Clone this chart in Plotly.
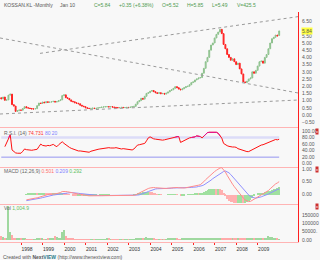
import plotly.graph_objects as go

# ---------------- data (monthly, Jan 1997 .. Jan 2010) ----------------
years = ["1998", "1999", "2000", "2001", "2002", "2003", "2004", "2005", "2006", "2007", "2008", "2009"]
year_start_idx = [12, 24, 36, 48, 60, 72, 84, 96, 108, 120, 132, 144]

closes = (
    [1.20, 1.12, 1.25, 1.02, 1.05, 1.38, 1.45, 0.72, 0.62, 0.25, 0.30, 0.35]      # 1997
    + [0.33, 0.45, 0.58, 0.50, 0.48, 0.45, 0.42, 0.42, 0.44, 0.65, 0.83, 0.80]    # 1998
    + [0.90, 0.85, 0.92, 0.88, 0.90, 0.92, 0.95, 0.90, 0.93, 1.00, 1.05, 1.35]    # 1999
    + [1.40, 1.20, 1.15, 1.05, 0.95, 0.92, 0.85, 0.82, 0.78, 0.68, 0.62, 0.58]    # 2000
    + [0.50, 0.47, 0.45, 0.46, 0.48, 0.45, 0.47, 0.50, 0.52, 0.55, 0.56, 0.58]    # 2001
    + [0.58, 0.56, 0.58, 0.55, 0.53, 0.52, 0.50, 0.52, 0.53, 0.51, 0.52, 0.53]    # 2002
    + [0.52, 0.55, 0.58, 0.60, 0.75, 0.92, 1.00, 1.16, 1.10, 1.30, 1.50, 1.55]    # 2003
    + [1.65, 1.70, 1.62, 1.55, 1.50, 1.55, 1.48, 1.50, 1.45, 1.52, 1.60, 1.70]    # 2004
    + [1.75, 1.85, 1.97, 1.90, 1.80, 1.75, 1.82, 1.90, 1.97, 2.00, 2.10, 2.25]    # 2005
    + [2.30, 2.43, 2.50, 2.57, 2.60, 2.90, 3.24, 3.70, 4.00, 4.50, 4.86, 5.00]    # 2006
    + [5.35, 5.60, 5.76, 5.95, 5.65, 4.90, 4.60, 4.20, 4.00, 3.80, 3.90, 3.70]    # 2007
    + [3.50, 3.60, 3.20, 2.85, 2.30, 2.25, 2.35, 2.50, 2.57, 3.00, 2.90, 3.10]    # 2008
    + [3.40, 3.70, 3.75, 3.60, 4.00, 4.20, 4.60, 5.00, 5.30, 5.40, 5.55, 5.49]    # 2009
    + [5.84]                                                                       # Jan 2010
)
first_open = 1.15
last_open = 5.52

volume_k = (
    [30, 22, 15, 10, 12, 200, 48, 30, 12, 8, 6, 10]
    + [8, 6, 5, 4, 4, 3, 3, 3, 4, 8, 10, 6]
    + [5, 4, 4, 6, 5, 12, 8, 20, 15, 10, 12, 45]
    + [60, 25, 12, 8, 6, 5, 4, 4, 3, 3, 3, 3]
    + [3, 2, 2, 3, 2, 2, 3, 3, 3, 4, 3, 3]
    + [12, 6, 4, 3, 3, 2, 2, 2, 2, 2, 2, 2]
    + [2, 2, 3, 4, 8, 12, 10, 8, 5, 12, 18, 8]
    + [10, 6, 5, 4, 3, 4, 3, 3, 3, 4, 5, 6]
    + [6, 8, 7, 5, 4, 4, 5, 6, 5, 6, 8, 9]
    + [8, 7, 7, 6, 6, 8, 10, 12, 10, 12, 9, 10]
    + [12, 10, 9, 8, 10, 8, 7, 6, 6, 5, 5, 5]
    + [5, 5, 6, 6, 8, 10, 7, 6, 5, 6, 5, 6]
    + [8, 10, 9, 8, 10, 12, 20, 18, 15, 12, 10, 8]
    + [1.0049]
)

rsi_start = 3
rsi = (
    [52, 65, 80, 88, 42, 36, 33, 32, 31]
    + [32, 38, 45, 43, 42, 42, 41, 42, 42, 44, 52, 60]
    + [56, 55, 54, 56, 55, 57, 59, 55, 52, 58, 62, 67]
    + [62, 57, 54, 50, 47, 45, 42, 40, 39, 39, 38, 38]
    + [36, 35, 35, 38, 40, 42, 43, 44, 45, 46, 47, 48]
    + [48, 49, 48, 47, 48, 49, 47, 45, 45, 46, 45, 44]
    + [43, 42, 42, 45, 52, 57, 58, 60, 61, 62, 70, 79]
    + [82, 78, 76, 75, 74, 72, 71, 72, 73, 74, 77, 78]
    + [78, 79, 81, 83, 83, 65, 68, 72, 73, 76, 79, 80]
    + [80, 82, 85, 85, 83, 79, 84, 90, 95, 96, 96, 96]
    + [96, 96, 93, 85, 78, 62, 57, 55, 53, 51, 51, 51]
    + [50, 46, 44, 42, 40, 38, 37, 37, 40, 44, 47, 48]
    + [52, 56, 57, 58, 60, 64, 66, 68, 70, 72, 74, 73]
    + [74.731]
)
rsi_levels = [80, 20]

macd_start = 15
macd = (
    [-0.22, -0.20, -0.19, -0.17, -0.16, -0.15, -0.14, -0.12, -0.08]
    + [-0.05, -0.03, -0.02, -0.01, 0.00, 0.00, 0.01, 0.02, 0.03, 0.04, 0.07, 0.11]
    + [0.12, 0.11, 0.10, 0.08, 0.07, 0.05, 0.04, 0.02, 0.01, 0.00, -0.02, -0.03]
    + [-0.04, -0.05, -0.06, -0.06, -0.06, -0.05, -0.05, -0.05, -0.04, -0.04, -0.04, -0.04]
    + [-0.04, -0.04, -0.05, -0.05, -0.05, -0.05, -0.05, -0.05, -0.05, -0.05, -0.05, -0.05]
    + [-0.05, -0.05, -0.05, -0.04, -0.02, 0.02, 0.05, 0.09, 0.12, 0.16, 0.20, 0.23]
    + [0.25, 0.27, 0.27, 0.26, 0.25, 0.25, 0.24, 0.23, 0.23, 0.23, 0.24, 0.25]
    + [0.26, 0.27, 0.28, 0.27, 0.26, 0.25, 0.25, 0.25, 0.26, 0.27, 0.28, 0.29]
    + [0.30, 0.32, 0.34, 0.36, 0.38, 0.43, 0.50, 0.58, 0.65, 0.72, 0.78, 0.85]
    + [0.90, 0.95, 1.00, 1.04, 1.05, 0.98, 0.88, 0.75, 0.62, 0.50, 0.40, 0.30]
    + [0.20, 0.12, 0.04, -0.05, -0.15, -0.22, -0.27, -0.29, -0.28, -0.24, -0.20, -0.15]
    + [-0.10, -0.05, -0.01, 0.02, 0.06, 0.10, 0.15, 0.22, 0.29, 0.35, 0.41, 0.45]
    + [0.501]
)
signal = (
    [-0.25, -0.24, -0.23, -0.22, -0.21, -0.20, -0.19, -0.17, -0.15]
    + [-0.13, -0.11, -0.09, -0.07, -0.05, -0.04, -0.03, -0.02, -0.01, 0.00, 0.02, 0.04]
    + [0.05, 0.06, 0.07, 0.07, 0.07, 0.06, 0.06, 0.05, 0.04, 0.03, 0.02, 0.01]
    + [0.00, -0.01, -0.02, -0.03, -0.04, -0.04, -0.04, -0.05, -0.05, -0.05, -0.05, -0.05]
    + [-0.05, -0.05, -0.05, -0.05, -0.05, -0.05, -0.05, -0.05, -0.05, -0.05, -0.05, -0.05]
    + [-0.05, -0.05, -0.05, -0.05, -0.04, -0.03, -0.02, 0.00, 0.02, 0.05, 0.08, 0.11]
    + [0.14, 0.17, 0.19, 0.21, 0.22, 0.22, 0.23, 0.23, 0.23, 0.23, 0.23, 0.24]
    + [0.24, 0.25, 0.25, 0.26, 0.26, 0.26, 0.26, 0.26, 0.26, 0.26, 0.27, 0.27]
    + [0.28, 0.28, 0.29, 0.31, 0.32, 0.34, 0.37, 0.41, 0.46, 0.51, 0.56, 0.62]
    + [0.67, 0.73, 0.78, 0.83, 0.87, 0.90, 0.92, 0.90, 0.85, 0.78, 0.70, 0.62]
    + [0.54, 0.45, 0.36, 0.27, 0.18, 0.10, 0.03, -0.03, -0.08, -0.12, -0.14, -0.15]
    + [-0.14, -0.12, -0.10, -0.07, -0.05, -0.02, 0.01, 0.05, 0.09, 0.13, 0.17, 0.19]
    + [0.209]
)

# trend lines drawn on the chart (month index, price)
trend_down = [(0.29, 5.35), (166.5, 1.53)]
trend_up_top = [(22.6, 4.28), (166.5, 6.83)]
trend_support = [(0.29, 0.07), (166.5, 1.04)]

last_close_label = "5.84"
price_ticks = [-0.5, 0, 0.5, 1, 1.5, 2, 2.5, 3, 3.5, 4, 4.5, 5, 5.5, 6.5]

# ---------------- derived ----------------
n = len(closes)
months = list(range(n))
opens = [first_open] + closes[:-1]
opens[-1] = last_open
highs = [max(o, c) for o, c in zip(opens, closes)]
lows = [min(o, c) for o, c in zip(opens, closes)]
volume = [v * 1000 for v in volume_k]
vol_colors = ["#9fd89f" if c >= o else "#ffaaaa" for o, c in zip(opens, closes)]

rsi_x = list(range(rsi_start, rsi_start + len(rsi)))
rsi_hi = [v if v >= 80 else None for v in rsi]
macd_x = list(range(macd_start, macd_start + len(macd)))
hist = [m - s for m, s in zip(macd, signal)]
hist_colors = ["#9fe09f" if (i == 0 or h >= hist[i - 1]) else "#ffb0b0" for i, h in enumerate(hist)]

W, H = 320, 260
def py(p):
    return 1 - p / H
XR = [0.29, 166.5]
XD = [0, 298 / W]
FONT = "Liberation Sans"
FS = 5
GREEN_T = "#4f9a4f"

fig = go.Figure()

fig.add_trace(go.Candlestick(
    x=months, open=opens, high=highs, low=lows, close=closes,
    increasing=dict(line=dict(color="#8cc08c", width=1), fillcolor="#c0e0c0"),
    decreasing=dict(line=dict(color="#ff2020", width=1), fillcolor="#ff4040"),
    whiskerwidth=0,
    xaxis="x", yaxis="y", showlegend=False, hoverinfo="skip",
))
for (a, b) in [trend_down, trend_up_top, trend_support]:
    fig.add_trace(go.Scatter(x=[a[0], b[0]], y=[a[1], b[1]], mode="lines",
                             line=dict(color="#9a9a9a", width=1, dash="dot"),
                             xaxis="x", yaxis="y", showlegend=False, hoverinfo="skip"))

# RSI
fig.add_trace(go.Scatter(x=[1, n - 1], y=[rsi_levels[0]] * 2, mode="lines",
                         line=dict(color="#dcdcf8", width=2.5), xaxis="x2", yaxis="y2", showlegend=False))
fig.add_trace(go.Scatter(x=[1, n - 1], y=[rsi_levels[1]] * 2, mode="lines",
                         line=dict(color="#9494f0", width=1), xaxis="x2", yaxis="y2", showlegend=False))
fig.add_trace(go.Scatter(x=rsi_x, y=rsi, mode="lines", line=dict(color="#ff1010", width=1),
                         xaxis="x2", yaxis="y2", showlegend=False))
fig.add_trace(go.Scatter(x=rsi_x, y=rsi_hi, mode="lines", line=dict(color="#e0109a", width=1),
                         xaxis="x2", yaxis="y2", showlegend=False))

# MACD
fig.add_trace(go.Bar(x=macd_x, y=hist, marker=dict(color=hist_colors, line=dict(width=0)), width=0.5,
                     xaxis="x3", yaxis="y3", showlegend=False))
fig.add_trace(go.Scatter(x=macd_x, y=signal, mode="lines", line=dict(color="#9090ff", width=1),
                         xaxis="x3", yaxis="y3", showlegend=False))
fig.add_trace(go.Scatter(x=macd_x, y=macd, mode="lines", line=dict(color="#ff8c8c", width=1),
                         xaxis="x3", yaxis="y3", showlegend=False))

# Volume
fig.add_trace(go.Bar(x=months, y=volume, marker=dict(color=vol_colors, line=dict(width=0)), width=0.6,
                     xaxis="x4", yaxis="y4", showlegend=False))

axis_common = dict(range=XR, domain=XD, showgrid=False, zeroline=False, showline=True,
                   linecolor="#ffb4b4", linewidth=1, fixedrange=True)
yax_common = dict(side="right", showgrid=False, zeroline=False, showline=True, linecolor="#ff2020",
                  linewidth=1, ticks="", ticklabelstandoff=2,
                  tickfont=dict(size=FS, color="#555555", family=FONT))

fig.update_layout(
    width=W, height=H, margin=dict(l=0, r=0, t=0, b=0),
    paper_bgcolor="#f8f8f8", plot_bgcolor="#f8f8f8",
    bargap=0, barmode="overlay",
    xaxis=dict(**axis_common, anchor="y", showticklabels=False, rangeslider=dict(visible=False)),
    xaxis2=dict(**axis_common, anchor="y2", showticklabels=False),
    xaxis3=dict(**axis_common, anchor="y3", showticklabels=False),
    xaxis4=dict(**axis_common, anchor="y4", tickvals=year_start_idx, ticktext=years,
                ticks="outside", ticklen=2, tickcolor="#ff2020", ticklabelshift=6, ticklabelstandoff=0,
                tickfont=dict(size=FS, color="#333333", family=FONT)),
    yaxis=dict(**yax_common, anchor="x", domain=[py(127), py(12)], range=[-0.833, 7.153],
               tickvals=price_ticks, tickformat=".2f"),
    yaxis2=dict(**yax_common, anchor="x2", domain=[py(166.5), py(127)], range=[-8.6, 112.2],
                tickvals=[0, 20, 40, 60, 80, 100], tickformat=".2f"),
    yaxis3=dict(**yax_common, anchor="x3", domain=[py(204.3), py(166.5)], range=[-0.395, 1.099],
                tickvals=[0, 0.5, 1.0], tickformat=".2f"),
    yaxis4=dict(**yax_common, anchor="x4", domain=[py(242.3), py(204.3)], range=[-13800, 214200],
                tickvals=[0, 50000, 100000, 150000], ticktext=["0.00", "50000.", "100000", "150000"]),
    font=dict(family=FONT, size=FS),
)

ann = []
def txt(s, x, y, color, size=FS, **kw):
    ann.append(dict(text=s, x=x / W, y=py(y), xref="paper", yref="paper", xanchor="left", yanchor="middle",
                    showarrow=False, font=dict(size=size, color=color, family=FONT), **kw))

# header
header = [("KOSSAN.KL -Monthly", 2, "#555555"), ("Jan 10", 58, "#555555"), ("C=5.84", 92, GREEN_T),
          ("+0.35 (+6.38%)", 117, GREEN_T), ("O=5.52", 160, GREEN_T), ("H=5.85", 185, GREEN_T),
          ("L=5.49", 210, GREEN_T), ("V=425.5", 235, GREEN_T)]
for s, x, c in header:
    txt(s, x, 5, c)

# panel labels
txt("R.S.I. (14) <span style='color:#ff3030'>74.731</span> <span style='color:#8080ff'>80 20</span>", 2, 132.5, "#666666")
txt("MACD (12,26,9) <span style='color:#ff7070'>0.501</span> <span style='color:#8080ff'>0.209</span> "
    "<span style='color:#60c060'>0.292</span>", 2, 170.5, "#666666")
txt("Vol <span style='color:#60c060'>1,004.9</span>", 2, 208, "#666666")
txt("Created with <b>Next</b><b style='color:#2a7a8a'>VIEW</b> (http://www.thenextview.com)", 1, 256.5, "#555555")

# current price tag
ann.append(dict(text=last_close_label, x=300.5 / W, y=5.84, xref="paper", yref="y", xanchor="left", yanchor="middle",
                showarrow=False, bgcolor="#ffff40", borderpad=0,
                font=dict(size=FS, color="#555555", family=FONT)))
# small close boxes
for yy in [131.5, 169.5, 206.5]:
    ann.append(dict(text="x", x=315 / W, y=py(yy), xref="paper", yref="paper", xanchor="left", yanchor="middle",
                    showarrow=False, bgcolor="#cc3030", borderpad=0,
                    font=dict(size=4, color="#ffffff", family=FONT)))
fig.update_layout(annotations=ann)

fig.write_html("out.html")
